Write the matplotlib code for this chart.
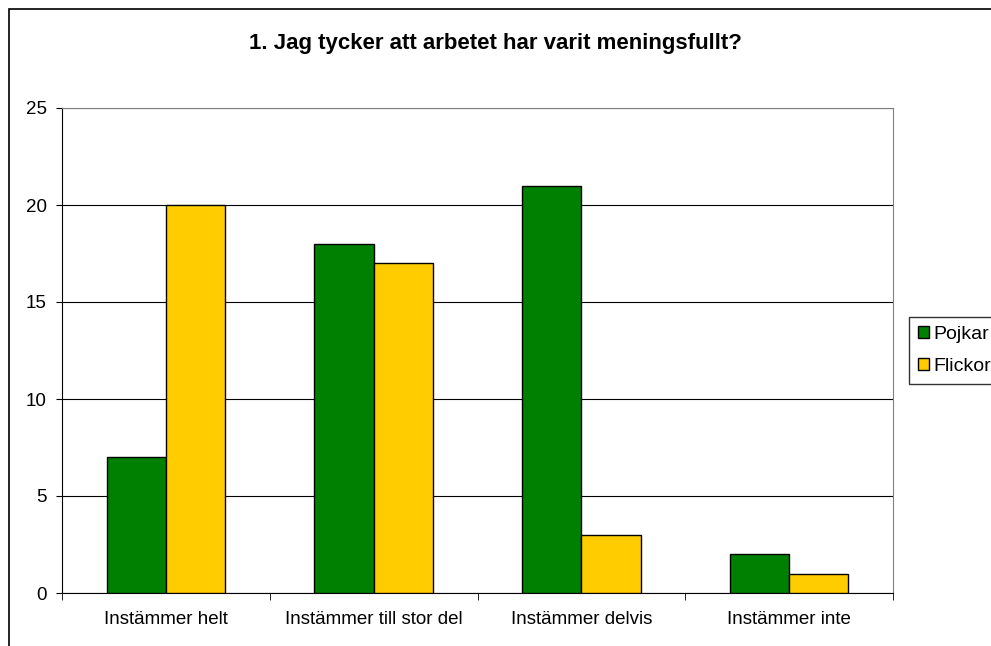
import numpy as np
import matplotlib.pyplot as plt
from matplotlib.patches import Rectangle

categories = ['Instämmer helt', 'Instämmer till stor del', 'Instämmer delvis', 'Instämmer inte']
pojkar = [7, 18, 21, 2]
flickor = [20, 17, 3, 1]
yticks = [0, 5, 10, 15, 20, 25]

plt.rcParams['font.family'] = ['Liberation Sans', 'DejaVu Sans']

fig = plt.figure(figsize=(9.91, 6.46), dpi=100)

# outer chart frame (extends past the right/bottom edge like the reference)
fig.patches.append(Rectangle((9 / 991, -0.05), 1.1, 1 - 9 / 646 + 0.05,
                             transform=fig.transFigure, fill=False,
                             edgecolor='black', linewidth=1.2, clip_on=False))

ax = fig.add_axes([62 / 991, 1 - 593 / 646, (893 - 62) / 991, (593 - 108) / 646])

x = np.arange(len(categories))
w = 0.2857
ax.bar(x - w / 2, pojkar, w, color='#008000', edgecolor='black', linewidth=1, label='Pojkar', zorder=3)
ax.bar(x + w / 2, flickor, w, color='#FFCC00', edgecolor='black', linewidth=1, label='Flickor', zorder=3)

ax.set_xlim(-0.5, len(categories) - 0.5)
ax.set_ylim(0, 25)
ax.set_yticks(yticks)
ax.yaxis.grid(True, color='black', linewidth=0.8, zorder=0)
ax.set_axisbelow(True)

# category labels centred, ticks at the boundaries
ax.set_xticks(x)
ax.set_xticklabels(categories, fontsize=13.5)
ax.tick_params(axis='x', length=0, pad=13)
ax.set_xticks(np.arange(len(categories) + 1) - 0.5, minor=True)
ax.tick_params(axis='x', which='minor', length=5, direction='out', color='black')
ax.tick_params(axis='y', length=4, direction='out', labelsize=13.5, pad=7)

ax.spines['left'].set_color('black')
ax.spines['bottom'].set_color('black')
ax.spines['top'].set_color('#808080')
ax.spines['right'].set_color('#808080')

fig.text(495 / 991, 1 - 43 / 646, '1. Jag tycker att arbetet har varit meningsfullt?',
         ha='center', va='center', fontsize=16, fontweight='bold')

fig.legend(loc='upper left', bbox_to_anchor=(909 / 991, 1 - 317 / 646),
           fontsize=14, frameon=True, fancybox=False, edgecolor='black',
           handlelength=0.57, handleheight=0.57, handletextpad=0.25,
           borderpad=0.45, labelspacing=0.8, borderaxespad=0)

fig.savefig('out.png', dpi=100)
